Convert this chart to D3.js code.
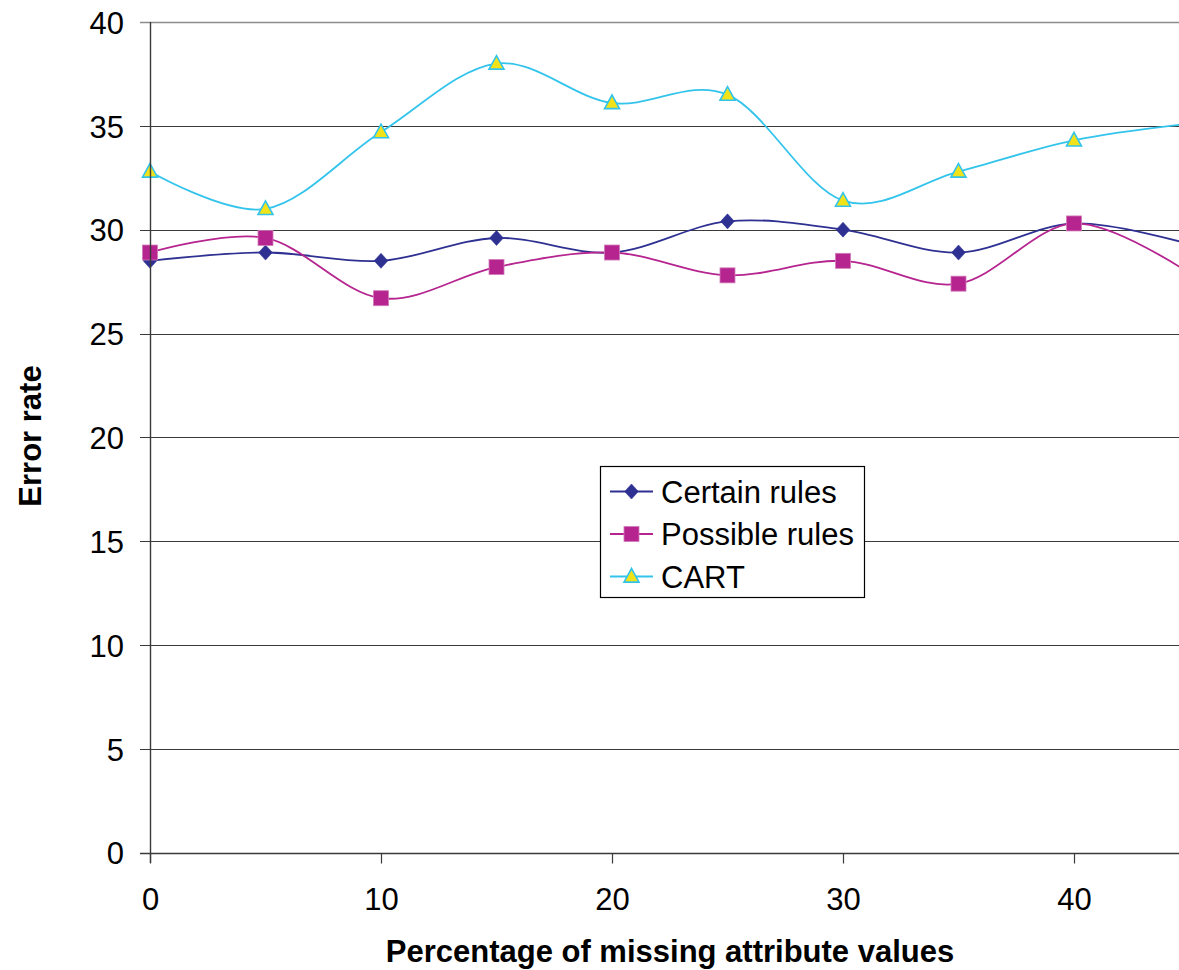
<!DOCTYPE html>
<html>
<head>
<meta charset="utf-8">
<script src="https://cdn.jsdelivr.net/npm/d3@7/dist/d3.min.js"></script>
<style>
  html, body { margin: 0; padding: 0; background: #fff; }
  svg { display: block; font-family: "Liberation Sans", Arial, sans-serif; }
</style>
</head>
<body>
<svg id="chart" width="1179" height="970"></svg>
<script>
// ---- data ----
const xValues = [0, 5, 10, 15, 20, 25, 30, 35, 40, 45];
const certainRules = [28.5, 28.9, 28.5, 29.6, 28.9, 30.4, 30.0, 28.9, 30.3, 29.3];
const possibleRules = [28.9, 29.6, 26.7, 28.2, 28.9, 27.8, 28.5, 27.4, 30.3, 27.9];
const cartValues = [32.8, 31.0, 34.7, 38.0, 36.1, 36.5, 31.4, 32.8, 34.3, 35.1];
const seriesNames = ["Certain rules", "Possible rules", "CART"];
const xTicks = [0, 10, 20, 30, 40];
const yTicks = [0, 5, 10, 15, 20, 25, 30, 35, 40];
const xTitle = "Percentage of missing attribute values";
const yTitle = "Error rate";

// ---- layout ----
const W = 1179, H = 970;
const plotLeft = 150, plotTop = 22, plotBottom = 852.7;
const pxPerX = 23.1;
const svg = d3.select("#chart");

const x = d3.scaleLinear().domain([0, 45]).range([plotLeft, plotLeft + 45 * pxPerX]);
const y = d3.scaleLinear().domain([0, 40]).range([plotBottom, plotTop]);

svg.append("defs").append("clipPath").attr("id", "clip")
  .append("rect").attr("x", 0).attr("y", 0).attr("width", W).attr("height", H);

// gridlines + y ticks
const g = svg.append("g").attr("clip-path", "url(#clip)");
yTicks.forEach(t => {
  if (t === 0) return;
  g.append("line")
    .attr("x1", plotLeft - 10).attr("x2", W)
    .attr("y1", Math.round(y(t)) + 0.5).attr("y2", Math.round(y(t)) + 0.5)
    .attr("stroke", t === 40 ? "#8c8c8c" : "#3a3a3a")
    .attr("stroke-width", t === 40 ? 1.6 : 1.2);
});

// y axis
const yAxis = d3.axisLeft(y).tickValues(yTicks).tickSize(0).tickPadding(0).tickFormat(d3.format("d"));
const ya = svg.append("g").attr("transform", `translate(${plotLeft},0)`).call(yAxis);
ya.select(".domain").remove();
ya.selectAll("text").attr("x", -26).attr("dy", "0.36em")
  .attr("font-size", 31).attr("fill", "#000").attr("font-family", "Liberation Sans, Arial, sans-serif");

// x axis
const xAxis = d3.axisBottom(x).tickValues(xTicks).tickSize(10).tickPadding(0).tickFormat(d3.format("d"));
const xa = svg.append("g").attr("transform", `translate(0,${Math.round(plotBottom) + 0.5})`).call(xAxis);
xa.select(".domain").remove();
xa.selectAll(".tick line").attr("stroke", "#3a3a3a").attr("stroke-width", 1.2);
xa.selectAll("text").attr("y", 56).attr("dy", 0)
  .attr("font-size", 31).attr("fill", "#000").attr("font-family", "Liberation Sans, Arial, sans-serif");

// axis lines
g.append("line").attr("x1", plotLeft - 10).attr("x2", W)
  .attr("y1", Math.round(plotBottom) + 0.5).attr("y2", Math.round(plotBottom) + 0.5)
  .attr("stroke", "#3a3a3a").attr("stroke-width", 1.4);
svg.append("line").attr("x1", plotLeft + 0.5).attr("x2", plotLeft + 0.5)
  .attr("y1", plotTop).attr("y2", plotBottom + 10)
  .attr("stroke", "#3a3a3a").attr("stroke-width", 1.4);

// series
const series = [
  { name: seriesNames[0], values: certainRules, color: "#2E3192", marker: "diamond" },
  { name: seriesNames[1], values: possibleRules, color: "#B5248F", marker: "square" },
  { name: seriesNames[2], values: cartValues, color: "#33C4EC", marker: "triangle" }
];

const line = d3.line().x(d => x(d[0])).y(d => y(d[1])).curve(d3.curveCardinal.tension(0));

function drawMarker(sel, type, color, cx, cy) {
  if (type === "diamond") {
    sel.append("path").attr("d", d3.symbol(d3.symbolDiamond2, 120)())
      .attr("transform", `translate(${cx},${cy}) scale(1,1.1)`)
      .attr("fill", color).attr("stroke", color).attr("stroke-width", 0.5);
  } else if (type === "square") {
    sel.append("rect").attr("x", cx - 7.5).attr("y", cy - 7.5).attr("width", 15).attr("height", 15)
      .attr("fill", color).attr("stroke", "#d27ab8").attr("stroke-width", 0.8);
  } else {
    const s = 7.5;
    sel.append("path")
      .attr("d", `M${cx},${cy - s - 0.5}L${cx + s},${cy + s * 0.75}L${cx - s},${cy + s * 0.75}Z`)
      .attr("fill", "#F2E21A").attr("stroke", color).attr("stroke-width", 1.6);
  }
}

series.forEach(s => {
  const pts = xValues.map((xv, i) => [xv, s.values[i]]);
  g.append("path").datum(pts).attr("d", line)
    .attr("fill", "none").attr("stroke", s.color).attr("stroke-width", 1.8);
});
series.forEach(s => {
  const mg = g.append("g");
  xValues.forEach((xv, i) => drawMarker(mg, s.marker, s.color, x(xv), y(s.values[i])));
});

// legend
const lg = svg.append("g");
lg.append("rect").attr("x", 600.5).attr("y", 466.5).attr("width", 264).attr("height", 131)
  .attr("fill", "#fff").attr("stroke", "#000").attr("stroke-width", 1.2);
const rowY = [491.5, 534, 576.5];
series.forEach((s, i) => {
  lg.append("line").attr("x1", 610).attr("x2", 653).attr("y1", rowY[i]).attr("y2", rowY[i])
    .attr("stroke", s.color).attr("stroke-width", 1.8);
  drawMarker(lg, s.marker, s.color, 631.5, rowY[i]);
  lg.append("text").attr("x", 661).attr("y", rowY[i]).attr("dy", "0.36em")
    .attr("font-size", 31).attr("fill", "#000").text(s.name);
});

// titles
svg.append("text").attr("x", 670).attr("y", 962).attr("text-anchor", "middle")
  .attr("font-size", 31).attr("font-weight", "bold").attr("fill", "#000").text(xTitle);
svg.append("text").attr("transform", "translate(41,436) rotate(-90)").attr("text-anchor", "middle")
  .attr("font-size", 31).attr("font-weight", "bold").attr("fill", "#000").text(yTitle);
</script>
</body>
</html>
